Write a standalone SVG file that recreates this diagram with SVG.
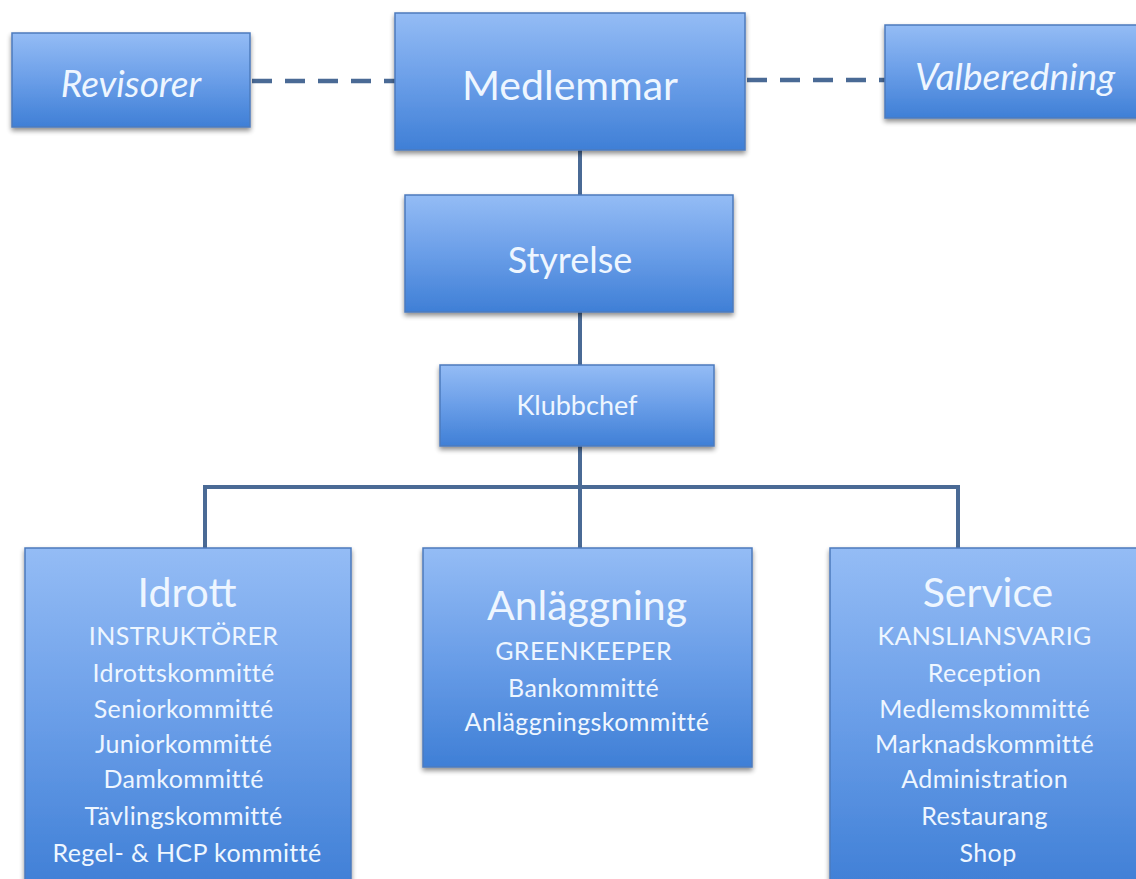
<svg xmlns="http://www.w3.org/2000/svg" width="1136" height="879" viewBox="0 0 1136 879">
<defs>
<linearGradient id="g" x1="0" y1="0" x2="0" y2="1">
<stop offset="0" stop-color="#94bcf5"/>
<stop offset="0.5" stop-color="#6a9ee8"/>
<stop offset="1" stop-color="#3f7fd6"/>
</linearGradient>
<filter id="sh" x="-10%" y="-10%" width="120%" height="130%">
<feGaussianBlur in="SourceAlpha" stdDeviation="2.5"/>
<feOffset dx="0" dy="3" result="b"/>
<feComponentTransfer><feFuncA type="linear" slope="0.45"/></feComponentTransfer>
<feMerge><feMergeNode/><feMergeNode in="SourceGraphic"/></feMerge>
</filter>
</defs>
<style>
.box{fill:url(#g);stroke:#4c7bbd;stroke-width:1.5;filter:url(#sh)}
.t{font-family:"Lato","Open Sans","Liberation Sans",sans-serif;fill:#eef6ff;text-anchor:middle}
.s{font-size:25px;letter-spacing:0.4px}
.i{font-style:italic}
.c{stroke:#4a6a95;stroke-width:4;fill:none}
.d{stroke-width:4.5;stroke-dasharray:20 13}
</style>
<rect width="1136" height="879" fill="#ffffff"/>
<g id="connectors">
<line class="c d" x1="252" y1="81" x2="395" y2="81"/>
<line class="c d" x1="747" y1="80" x2="885" y2="80"/>
<line class="c" x1="580" y1="150" x2="580" y2="195"/>
<line class="c" x1="580" y1="312" x2="580" y2="365"/>
<line class="c" x1="580" y1="446" x2="580" y2="548"/>
<polyline class="c" points="205,548 205,487 958,487 958,548"/>
</g>
<g id="revisorer">
<rect class="box" x="12" y="33" width="238" height="94"/>
<text class="t i" x="131" y="97" font-size="37">Revisorer</text>
</g>
<g id="medlemmar">
<rect class="box" x="395" y="13" width="350" height="137"/>
<text class="t" x="570" y="100" font-size="41">Medlemmar</text>
</g>
<g id="valberedning">
<rect class="box" x="885" y="25" width="260" height="93"/>
<text class="t i" x="1015" y="90" font-size="37">Valberedning</text>
</g>
<g id="styrelse">
<rect class="box" x="405" y="195" width="328" height="117"/>
<text class="t" x="570" y="273" font-size="36">Styrelse</text>
</g>
<g id="klubbchef">
<rect class="box" x="440" y="365" width="274" height="81"/>
<text class="t" x="577" y="415" font-size="27">Klubbchef</text>
</g>
<g id="idrott">
<rect class="box" x="25" y="548" width="326" height="340"/>
<text class="t" x="187" y="607" font-size="41">Idrott</text>
<text class="t s">
<tspan x="187" y="645">INSTRUKTÖRER</tspan>
<tspan x="187" y="682">Idrottskommitté</tspan>
<tspan x="187" y="718">Seniorkommitté</tspan>
<tspan x="187" y="753">Juniorkommitté</tspan>
<tspan x="187" y="788">Damkommitté</tspan>
<tspan x="187" y="825">Tävlingskommitté</tspan>
<tspan x="187" y="862">Regel- &amp; HCP kommitté</tspan>
</text>
</g>
<g id="anlaggning">
<rect class="box" x="423" y="548" width="329" height="219"/>
<text class="t" x="587" y="620" font-size="41">Anläggning</text>
<text class="t s">
<tspan x="587" y="660">GREENKEEPER</tspan>
<tspan x="587" y="697">Bankommitté</tspan>
<tspan x="587" y="731">Anläggningskommitté</tspan>
</text>
</g>
<g id="service">
<rect class="box" x="830" y="548" width="320" height="340"/>
<text class="t" x="988" y="607" font-size="41">Service</text>
<text class="t s">
<tspan x="988" y="645">KANSLIANSVARIG</tspan>
<tspan x="988" y="682">Reception</tspan>
<tspan x="988" y="718">Medlemskommitté</tspan>
<tspan x="988" y="753">Marknadskommitté</tspan>
<tspan x="988" y="788">Administration</tspan>
<tspan x="988" y="825">Restaurang</tspan>
<tspan x="988" y="862">Shop</tspan>
</text>
</g>
</svg>
